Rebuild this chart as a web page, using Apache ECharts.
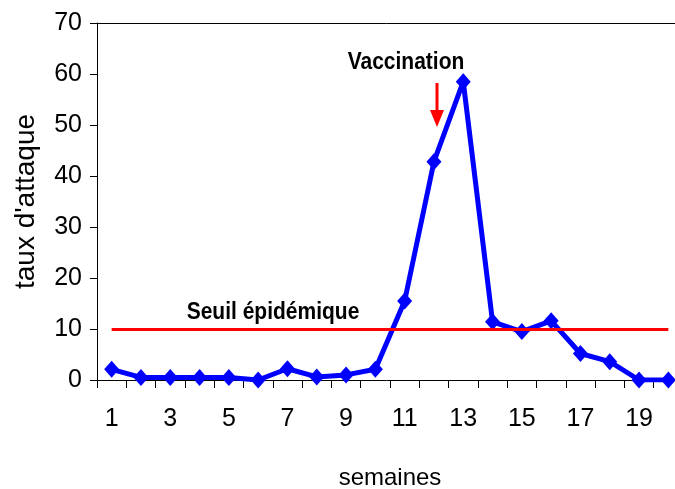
<!DOCTYPE html>
<html>
<head>
<meta charset="utf-8">
<script src="https://cdn.jsdelivr.net/npm/echarts@6/dist/echarts.min.js"></script>
<style>
  html, body { margin: 0; padding: 0; background: #fff; }
  #chart { width: 675px; height: 489px; }
</style>
</head>
<body>
<div id="chart"></div>
<script>
// données
var semaines = ['1', '2', '3', '4', '5', '6', '7', '8', '9', '10',
  '11', '12', '13', '14', '15', '16', '17', '18', '19', '20']
var tauxAttaque = [2.1, 0.5, 0.5, 0.5, 0.5, 0, 2.2, 0.6, 1, 2.1,
  15.5, 42.8, 58.5, 11.4, 9.5, 11.6, 5.2, 3.6, 0, 0]
var seuil = 10
var yTicks = [0, 10, 20, 30, 40, 50, 60, 70]

var font = "'Liberation Sans', Arial, sans-serif"

var myChart = echarts.init(document.getElementById('chart'))

var option = {
  animation: false,
  backgroundColor: '#fff',
  grid: { left: 97, top: 23, right: -8, bottom: 109, outerBoundsMode: 'none', containLabel: false },
  xAxis: [
    {
      type: 'category',
      data: semaines,
      boundaryGap: true,
      name: 'semaines',
      nameLocation: 'middle',
      nameGap: 86,
      nameTextStyle: { fontFamily: font, fontSize: 24, color: '#000' },
      axisLine: { lineStyle: { color: '#000', width: 1 } },
      axisTick: { show: true, interval: 0, length: 8, lineStyle: { color: '#000' } },
      axisLabel: { interval: 1, margin: 27, fontFamily: font, fontSize: 25, color: '#000' },
      splitLine: { show: false }
    },
    {
      // ligne du haut du cadre
      type: 'category',
      data: semaines,
      position: 'top',
      axisLine: { lineStyle: { color: '#000', width: 1 } },
      axisTick: { show: false },
      axisLabel: { show: false },
      splitLine: { show: false }
    }
  ],
  yAxis: {
    type: 'value',
    min: yTicks[0],
    max: yTicks[yTicks.length - 1],
    interval: 10,
    name: "taux d'attaque",
    nameLocation: 'middle',
    nameGap: 57,
    nameTextStyle: { fontFamily: font, fontSize: 28, color: '#000' },
    axisLine: { show: true, lineStyle: { color: '#000', width: 1 } },
    axisTick: { show: true, length: 7, lineStyle: { color: '#000' } },
    axisLabel: { margin: 15, fontFamily: font, fontSize: 25, color: '#000' },
    splitLine: { show: false }
  },
  series: [
    {
      name: 'seuil',
      type: 'line',
      data: [],
      z: 1,
      silent: true,
      markLine: {
        silent: true,
        symbol: 'none',
        label: { show: false },
        lineStyle: { color: '#ff0000', width: 3, type: 'solid' },
        data: [[{ coord: [semaines[0], seuil] }, { coord: [semaines[semaines.length - 1], seuil] }]]
      }
    },
    {
      name: "taux d'attaque",
      type: 'line',
      data: tauxAttaque,
      z: 3,
      symbol: 'diamond',
      symbolSize: [15, 17],
      itemStyle: { color: '#0000ff' },
      lineStyle: { color: '#0000ff', width: 5 }
    }
  ],
  graphic: [
    {
      type: 'text',
      x: 406,
      y: 62.5,
      scaleY: 1.17,
      style: { text: 'Vaccination', font: 'bold 21px ' + font, fill: '#000', align: 'center', verticalAlign: 'middle' }
    },
    {
      type: 'text',
      x: 273,
      y: 312.5,
      scaleY: 1.17,
      style: { text: 'Seuil épidémique', font: 'bold 21px ' + font, fill: '#000', align: 'center', verticalAlign: 'middle' }
    },
    {
      type: 'line',
      shape: { x1: 437, y1: 83, x2: 437, y2: 112 },
      style: { stroke: '#ff0000', lineWidth: 3 }
    },
    {
      type: 'polygon',
      shape: { points: [[430, 110], [444, 110], [437, 127]] },
      style: { fill: '#ff0000' }
    }
  ]
}

myChart.setOption(option)
window.onresize = function () {
  myChart.resize()
}
</script>
</body>
</html>
